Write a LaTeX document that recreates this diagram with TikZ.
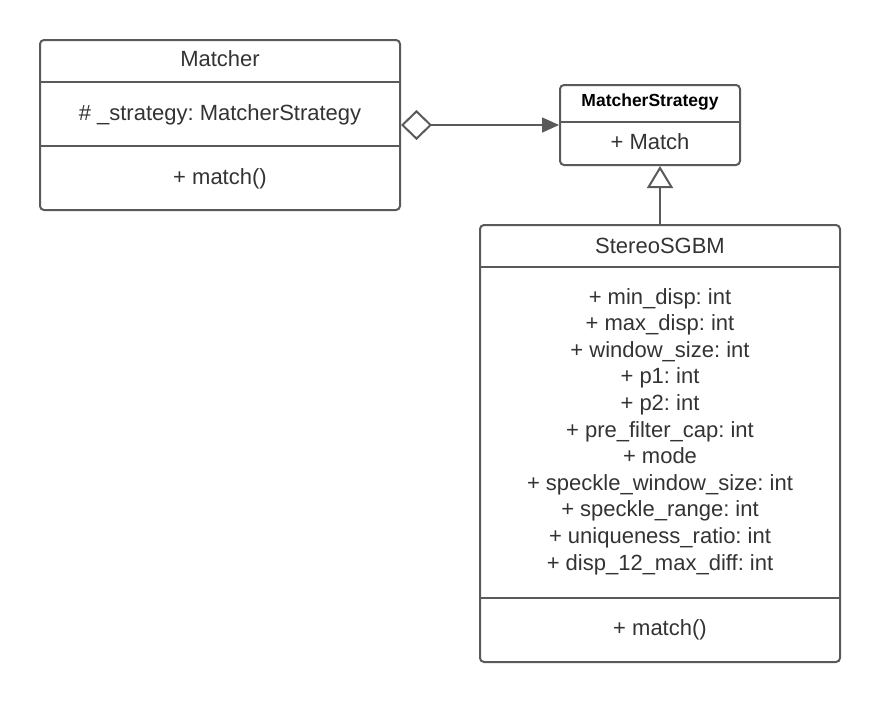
\documentclass[tikz,border=0pt]{standalone}
\usepackage{fontspec}
\setmainfont{Liberation Sans}
\usetikzlibrary{arrows.meta}
\definecolor{umlline}{HTML}{5A5A5A}
\definecolor{umltext}{HTML}{333333}
\frenchspacing

\begin{document}
\begin{tikzpicture}[x=1pt, y=-1pt,
    umlbox/.style={draw=umlline, line width=2pt, rounded corners=4pt, inner sep=0pt},
    txt/.style={text=umltext, font=\fontsize{22}{26}\selectfont, inner sep=0pt, text height=16pt, text depth=5pt},
    divider/.style={draw=umlline, line width=2pt},
    aggr/.style={draw=umlline, line width=1.5pt, {Diamond[open, length=31pt, width=30pt, line width=2pt]}-{Triangle[length=17pt, width=15pt]}},
    inherit/.style={draw=umlline, line width=2pt, -{Triangle[open, length=22pt, width=26pt, line width=2pt]}}]

    \useasboundingbox (0,0) rectangle (880,704);

    % Matcher
    \node[umlbox, minimum width=360pt, minimum height=170pt] (matcher) at (220,125) {};
    \node[txt] (matcherName) at (220,60.5) {Matcher};
    \node[txt] (matcherAttr) at (220,114.5) {\# \_strategy: MatcherStrategy};
    \node[txt] (matcherOp) at (220,178.5) {+ match()};
    \draw[divider] (40,82) -- (400,82);
    \draw[divider] (40,146) -- (400,146);

    % MatcherStrategy
    \node[umlbox, minimum width=180pt, minimum height=80pt] (strategy) at (650,125) {};
    \node[inner sep=0pt, font=\bfseries\fontsize{17.5}{20}\selectfont] (strategyName) at (650,102.5) {MatcherStrategy};
    \node[txt] (strategyOp) at (650,143.5) {+ Match};
    \draw[divider] (560,122) -- (740,122);

    % StereoSGBM
    \node[umlbox, minimum width=360pt, minimum height=437pt] (sgbm) at (660,443.5) {};
    \node[txt] (sgbmName) at (660,247.5) {StereoSGBM};
    \draw[divider] (480,267) -- (840,267);
    \foreach \attr [count=\i] in {+ min\_disp: int, + max\_disp: int, + window\_size: int,
        + p1: int, + p2: int, + pre\_filter\_cap: int, + mode, + speckle\_window\_size: int,
        + speckle\_range: int, + uniqueness\_ratio: int, + disp\_12\_max\_diff: int}
        \node[txt] (sgbmAttr\i) at (660,{298.5+26.6*(\i-1)}) {\attr};
    \draw[divider] (480,598) -- (840,598);
    \node[txt] (sgbmOp) at (660,629.5) {+ match()};

    \draw[aggr] (matcher.east) -- (strategy.west);
    \draw[inherit] (sgbm.north) -- (sgbm.north |- strategy.south);

\end{tikzpicture}
\end{document}
